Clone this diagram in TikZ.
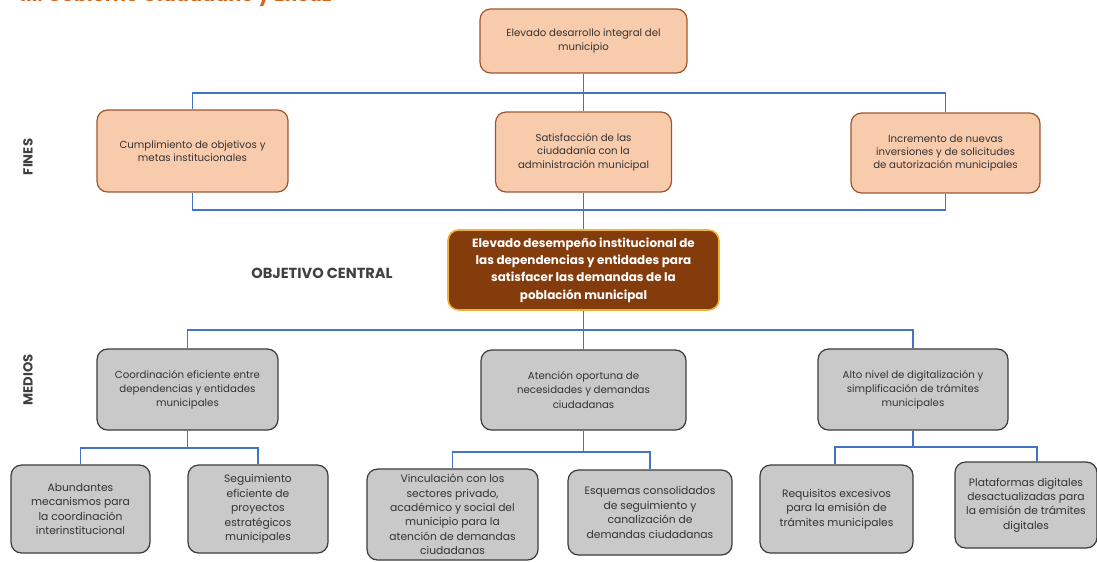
\documentclass[tikz,border=0pt]{standalone}
\usepackage{fontspec}
\setmainfont{Poppins}
\definecolor{finfill}{RGB}{248,203,173}
\definecolor{findraw}{RGB}{156,87,45}
\definecolor{medfill}{RGB}{201,201,201}
\definecolor{meddraw}{RGB}{60,60,60}
\definecolor{objfill}{RGB}{132,60,12}
\definecolor{objdraw}{RGB}{240,176,60}
\definecolor{linkblue}{RGB}{68,114,196}
\definecolor{titleorange}{RGB}{210,100,30}
\definecolor{labgray}{RGB}{64,64,64}
\begin{document}
\begin{tikzpicture}[x=0.02cm, y=-0.02cm,
  finbox/.style={draw=findraw, fill=finfill, line width=0.7pt, rounded corners=6pt,
    align=center, inner sep=1pt, text=black!80, font=\fontsize{5.8}{7.6}\selectfont},
  medbox/.style={draw=meddraw, fill=medfill, line width=0.7pt, rounded corners=6pt,
    align=center, inner sep=1pt, text=black!80, font=\fontsize{5.8}{8}\selectfont},
  subbox/.style={medbox, font=\fontsize{6.1}{8.2}\selectfont},
  objbox/.style={draw=objdraw, fill=objfill, line width=0.9pt, rounded corners=6pt,
    align=center, inner sep=1pt, text=white, font=\bfseries\fontsize{6.8}{9.8}\selectfont},
  sidelabel/.style={text=labgray, font=\bfseries\fontsize{7.5}{9}\selectfont},
  link/.style={draw=linkblue, line width=0.8pt}]
\useasboundingbox (0,0) rectangle (1097,561);
\clip (0,0) rectangle (1097,561);
% title, cut at the top edge
\node[anchor=base west, text=titleorange, font=\bfseries\fontsize{11}{13}\selectfont, inner sep=0pt] (title) at (20,2) {III. Gobierno Ciudadano y Eficaz};
% side labels
\node[sidelabel, rotate=90] (fines) at (28,157) {FINES};
\node[sidelabel, rotate=90] (medios) at (28,380) {MEDIOS};
\node[sidelabel, font=\bfseries\fontsize{8.3}{10}\selectfont] (objetivo) at (322,273) {OBJETIVO CENTRAL};
% fines
\node[finbox, minimum width=4.14cm, minimum height=1.28cm] (top) at (583.5,41) {Elevado desarrollo integral del\\municipio};
\node[finbox, minimum width=3.82cm, minimum height=1.64cm] (fin1) at (192.5,151) {Cumplimiento de objetivos y\\metas institucionales};
\node[finbox, minimum width=3.52cm, minimum height=1.6cm] (fin2) at (583.5,152) {Satisfacción de las\\ciudadanía con la\\administración municipal};
\node[finbox, minimum width=3.78cm, minimum height=1.6cm] (fin3) at (945.5,153) {Incremento de nuevas\\inversiones y de solicitudes\\de autorización municipales};
% objetivo central
\node[objbox, minimum width=5.42cm, minimum height=1.6cm] (central) at (583.5,270) {Elevado desempeño institucional de\\las dependencias y entidades para\\satisfacer las demandas de la\\población municipal};
% medios
\node[medbox, minimum width=3.62cm, minimum height=1.62cm] (med1) at (187.5,389.5) {Coordinación eficiente entre\\dependencias y entidades\\municipales};
\node[medbox, minimum width=4.1cm, minimum height=1.6cm] (med2) at (583.5,390) {Atención oportuna de\\necesidades y demandas\\ciudadanas};
\node[medbox, minimum width=3.8cm, minimum height=1.62cm] (med3) at (913,389.5) {Alto nivel de digitalización y\\simplificación de trámites\\municipales};
% sub medios
\node[subbox, minimum width=2.78cm, minimum height=1.76cm] (s1a) at (80.5,509) {Abundantes\\mecanismos para\\la coordinación\\interinstitucional};
\node[subbox, minimum width=2.8cm, minimum height=1.76cm] (s1b) at (258,509) {Seguimiento\\eficiente de\\proyectos\\estratégicos\\municipales};
\node[subbox, minimum width=3.42cm, minimum height=1.82cm] (s2a) at (452.5,514.5) {Vinculación con los\\sectores privado,\\académico y social del\\municipio para la\\atención de demandas\\ciudadanas};
\node[subbox, minimum width=3.28cm, minimum height=1.7cm] (s2b) at (650,512.5) {Esquemas consolidados\\de seguimiento y\\canalización de\\demandas ciudadanas};
\node[subbox, minimum width=3.06cm, minimum height=1.76cm] (s3a) at (836.5,509) {Requisitos excesivos\\para la emisión de\\trámites municipales};
\node[subbox, minimum width=2.84cm, minimum height=1.72cm] (s3b) at (1026,505) {Plataformas digitales\\desactualizadas para\\la emisión de trámites\\digitales};
% connectors
\coordinate (busT) at (583.5,93);
\coordinate (busF) at (583.5,210);
\coordinate (busM) at (583.5,330);
\coordinate (bus1) at (187.5,448);
\coordinate (bus2) at (583.5,452);
\coordinate (bus3) at (913,447);
\draw[link] (top.south) -- (fin2.north);
\draw[link] (fin1.north) |- (busT) -| (fin3.north);
\draw[link] (fin2.south) -- (central.north);
\draw[link] (fin1.south) |- (busF) -| (fin3.south);
\draw[link] (central.south) -- (med2.north);
\draw[link] (med1.north) |- (busM) -| (med3.north);
\draw[link] (med1.south) -- (bus1);
\draw[link] (s1a.north) |- (bus1) -| (s1b.north);
\draw[link] (med2.south) -- (bus2);
\draw[link] (s2a.north) |- (bus2) -| (s2b.north);
\draw[link] (med3.south) -- (bus3);
\draw[link] ([xshift=-0.03cm]s3a.north) |- (bus3) -| ([xshift=0.22cm]s3b.north);
\end{tikzpicture}
\end{document}
